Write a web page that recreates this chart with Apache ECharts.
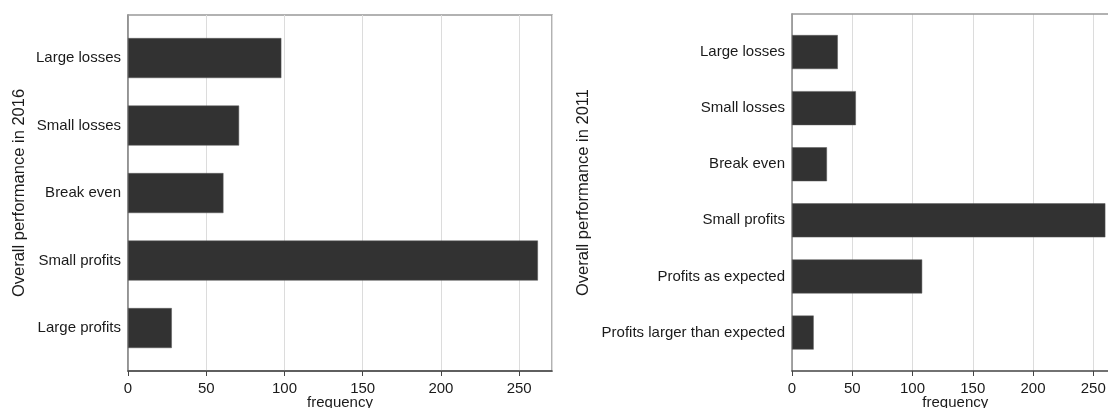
<!DOCTYPE html>
<html>
<head>
<meta charset="utf-8">
<script src="https://cdn.jsdelivr.net/npm/echarts@6/dist/echarts.min.js"></script>
<style>
html,body{margin:0;padding:0;background:#fff;overflow:hidden;}
#chart{width:1108px;height:408px;}
</style>
</head>
<body>
<div id="chart"></div>
<script>
// ---- data ----
const categories2016 = ['Large losses', 'Small losses', 'Break even', 'Small profits', 'Large profits'];
const values2016 = [98, 71, 61, 262, 28];
const categories2011 = ['Large losses', 'Small losses', 'Break even', 'Small profits', 'Profits as expected', 'Profits larger than expected'];
const values2011 = [38, 53, 29, 260, 108, 18];
const xTickInterval = 50;
const leftTitle = 'Overall performance in 2016';
const rightTitle = 'Overall performance in 2011';
const xTitle = 'frequency';

const FONT = '"Liberation Sans", Arial, sans-serif';
const textColor = '#1a1a1a';

function frameX(gridIndex, max) {
  return {
    type: 'value', gridIndex: gridIndex, min: 0, max: max, interval: xTickInterval,
    name: xTitle, nameLocation: 'middle', nameGap: 24, nameMoveOverlap: false,
    nameTextStyle: { fontFamily: FONT, fontSize: 15, color: textColor },
    axisLine: { show: true, lineStyle: { color: '#444', width: 1.5 } },
    axisTick: { show: true, length: 5, lineStyle: { color: '#444', width: 1 } },
    axisLabel: { fontFamily: FONT, fontSize: 15, color: textColor, margin: 10, showMaxLabel: false },
    splitLine: { show: true, lineStyle: { color: '#dcdcdc', width: 1 } }
  };
}
function topBorderX(gridIndex, max) {
  return {
    type: 'value', gridIndex: gridIndex, min: 0, max: max, position: 'top',
    axisLine: { show: true, lineStyle: { color: '#999', width: 1.5 } },
    axisTick: { show: false }, axisLabel: { show: false }, splitLine: { show: false }
  };
}
function frameY(gridIndex, title, gap) {
  return {
    type: 'value', gridIndex: gridIndex, min: 0, max: 1,
    name: title, nameLocation: 'middle', nameGap: gap, nameRotate: 90, nameMoveOverlap: false,
    nameTextStyle: { fontFamily: FONT, fontSize: 16.5, color: textColor },
    axisLine: { show: true, lineStyle: { color: '#888', width: 1.5 } },
    axisTick: { show: false }, axisLabel: { show: false }, splitLine: { show: false }
  };
}
function dataX(gridIndex, max) {
  return { type: 'value', gridIndex: gridIndex, min: 0, max: max, show: false, splitLine: { show: false } };
}
function dataY(gridIndex, cats) {
  return {
    type: 'category', gridIndex: gridIndex, data: cats, inverse: true,
    axisLine: { show: false }, axisTick: { show: false },
    axisLabel: { fontFamily: FONT, fontSize: 15, color: textColor, margin: 7 },
    splitLine: { show: false }
  };
}

const leftMax = 271;
const rightMax = 271;

const option = {
  animation: false,
  backgroundColor: '#ffffff',
  grid: [
    { left: 128, top: 15, width: 424, height: 356, show: true, borderColor: '#999', borderWidth: 1.5, backgroundColor: 'transparent', outerBoundsMode: 'none', containLabel: false },
    { left: 128, top: 24.3, width: 424, height: 337.5, outerBoundsMode: 'none', containLabel: false },
    { left: 792, top: 14, width: 326.6, height: 357, show: false, outerBoundsMode: 'none', containLabel: false },
    { left: 792, top: 24, width: 326.6, height: 336.6, outerBoundsMode: 'none', containLabel: false }
  ],
  xAxis: [frameX(0, leftMax), dataX(1, leftMax), frameX(2, rightMax), dataX(3, rightMax), topBorderX(2, rightMax)],
  yAxis: [frameY(0, leftTitle, 100), dataY(1, categories2016), frameY(2, rightTitle, 200), dataY(3, categories2011)],
  series: [
    {
      type: 'bar', xAxisIndex: 1, yAxisIndex: 1, data: values2016, barWidth: 40,
      itemStyle: { color: '#323232', borderColor: '#5a5a5a', borderWidth: 0.5 }
    },
    {
      type: 'bar', xAxisIndex: 3, yAxisIndex: 3, data: values2011, barWidth: 34,
      itemStyle: { color: '#323232', borderColor: '#5a5a5a', borderWidth: 0.5 }
    }
  ]
};

const chart = echarts.init(document.getElementById('chart'), null, { renderer: 'canvas' });
chart.setOption(option);
</script>
</body>
</html>
